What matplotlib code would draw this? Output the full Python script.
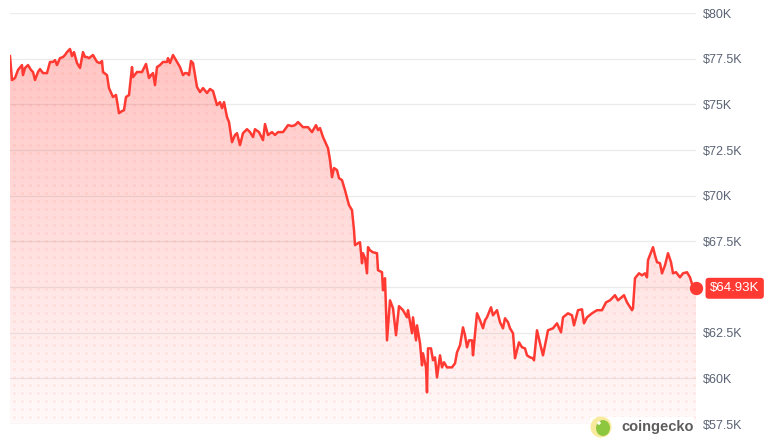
import numpy as np
import matplotlib
matplotlib.use("Agg")
import matplotlib.pyplot as plt
from matplotlib.patches import Rectangle, Ellipse
from matplotlib.colors import to_rgb

plt.rcParams['font.family'] = ['Liberation Sans', 'DejaVu Sans']

# ---- data (time step index, price in $K) ----
t = [0, 2, 5, 8, 12, 13, 15, 18, 21, 23,
     25, 28, 30, 33, 37, 40, 43, 45, 47, 50,
     53, 55, 57, 60, 62, 64, 67, 70, 73, 75,
     77, 79, 83, 87, 90, 92, 93, 97, 99, 103,
     106, 109, 112, 114, 116, 119, 122, 123, 127, 132,
     136, 139, 141, 143, 145, 147, 150, 153, 157, 158,
     160, 163, 167, 170, 173, 175, 177, 179, 181, 183,
     187, 190, 193, 197, 200, 203, 207, 210, 212, 214,
     217, 219, 222, 225, 227, 230, 233, 237, 240, 243,
     245, 249, 253, 255, 258, 262, 265, 268, 273, 278,
     282, 285, 288, 293, 298, 302, 306, 308, 310, 313,
     318, 320, 322, 324, 327, 329, 332, 335, 339, 342,
     344, 345, 348, 350, 352, 353, 355, 357, 358, 360,
     363, 367, 368, 372, 373, 375, 377, 380, 383, 386,
     389, 393, 397, 398, 402, 403, 406, 407, 410, 412,
     413, 416, 417, 418, 421, 423, 425, 427, 430, 432,
     434, 437, 442, 445, 447, 450, 453, 455, 457, 459,
     462, 463, 467, 470, 473, 475, 477, 481, 483, 487,
     490, 493, 495, 498, 500, 503, 505, 509, 512, 515,
     517, 520, 523, 524, 527, 530, 533, 538, 543, 547,
     551, 553, 558, 562, 564, 568, 572, 574, 577, 582,
     587, 592, 596, 600, 605, 608, 614, 617, 622, 623,
     625, 629, 632, 635, 637, 638, 643, 645, 647, 650,
     652, 655, 658, 661, 663, 666, 670, 673, 677, 680,
     683, 686]
price = [77.64, 76.33, 76.44, 76.88, 77.15, 76.60, 76.99, 77.15, 76.88, 76.77,
         76.33, 76.77, 76.93, 76.71, 76.71, 77.32, 77.32, 77.42, 77.15, 77.53,
         77.59, 77.70, 77.86, 78.03, 77.64, 77.86, 77.26, 76.99, 77.86, 77.59,
         77.59, 77.53, 77.70, 77.32, 77.26, 77.37, 76.77, 76.60, 75.89, 75.40,
         75.51, 74.52, 74.63, 74.68, 75.40, 75.51, 77.04, 76.49, 76.77, 76.77,
         77.21, 76.44, 76.60, 76.71, 76.05, 77.04, 77.15, 77.32, 77.32, 77.53,
         77.26, 77.70, 77.32, 77.04, 76.60, 76.71, 76.71, 76.60, 77.37, 77.26,
         75.95, 75.67, 75.89, 75.62, 75.84, 75.73, 74.96, 75.12, 74.79, 75.12,
         74.30, 74.03, 72.93, 73.32, 73.42, 72.77, 73.42, 73.64, 73.48, 73.21,
         73.64, 73.48, 73.04, 73.92, 73.32, 73.48, 73.32, 73.48, 73.48, 73.86,
         73.81, 73.86, 74.03, 73.75, 73.75, 73.48, 73.86, 73.59, 73.70, 73.21,
         72.60, 71.95, 71.01, 71.51, 71.40, 70.96, 70.85, 70.30, 69.48, 69.21,
         68.11, 67.29, 67.40, 67.45, 66.30, 66.85, 66.58, 65.75, 67.18, 67.01,
         66.90, 66.85, 65.92, 65.81, 64.82, 65.48, 62.08, 64.27, 63.84, 62.36,
         63.95, 63.73, 63.34, 63.73, 62.47, 63.34, 62.08, 62.90, 61.92, 60.71,
         61.37, 60.60, 59.23, 61.64, 61.64, 60.99, 61.15, 60.05, 61.26, 60.60,
         60.88, 60.60, 60.60, 60.82, 61.42, 61.81, 62.79, 62.36, 61.70, 62.08,
         62.08, 61.26, 63.56, 63.18, 62.74, 63.18, 63.34, 63.89, 63.45, 63.73,
         63.07, 62.74, 63.29, 63.07, 62.74, 62.47, 61.10, 61.97, 61.70, 61.64,
         61.26, 61.15, 61.10, 60.99, 62.63, 61.92, 61.26, 62.63, 62.74, 63.01,
         62.52, 63.34, 63.56, 63.45, 62.90, 63.73, 63.78, 63.01, 63.34, 63.56,
         63.73, 63.73, 64.16, 64.27, 64.55, 64.27, 64.55, 64.16, 63.73, 63.84,
         65.48, 65.75, 65.64, 65.75, 65.53, 66.47, 67.18, 66.74, 66.36, 66.30,
         65.75, 66.19, 66.85, 66.36, 65.75, 65.81, 65.53, 65.75, 65.81, 65.53,
         64.99, 64.93]
y_ticks = [57.5, 60, 62.5, 65, 67.5, 70, 72.5, 75, 77.5, 80]
# the $65K label is hidden behind the last-price badge in the reference
y_tick_labels = ['$57.5K', '$60K', '$62.5K', '', '$67.5K', '$70K',
                 '$72.5K', '$75K', '$77.5K', '$80K']
last_label = '$64.93K'

RED = '#ff3a33'
W, H = 766, 441

fig = plt.figure(figsize=(W / 100, H / 100), dpi=100)
ax = fig.add_axes([10 / W, 17 / H, 686 / W, 411 / H])
for s in ax.spines.values():
    s.set_visible(False)

xmin, xmax = t[0], t[-1]
ymin, ymax = y_ticks[0], y_ticks[-1]

# grid lines
for v in y_ticks:
    ax.axhline(v, color='#ebebeb', lw=0.9, zorder=0)

# gradient fill under line
poly = ax.fill_between(t, price, ymin, color='none', lw=0, zorder=1)
rgb = np.array(to_rgb(RED))
ny = 256
yy = np.linspace(ymin, ymax, ny)
alpha = np.clip(0.03 + (yy - ymin) / (78 - ymin) * 0.27, 0, 0.32)
img = np.zeros((ny, 2, 4))
img[..., :3] = rgb
img[..., 3] = alpha[:, None]
im = ax.imshow(img, extent=[xmin, xmax, ymin, ymax], origin='lower',
               aspect='auto', zorder=1, interpolation='bilinear')
im.set_clip_path(poly.get_paths()[0], transform=ax.transData)

# dot pattern inside the fill
px_x = (xmax - xmin) / 686.0
px_y = (ymax - ymin) / 411.0
dx = np.arange(xmin + 4 * px_x, xmax, 8 * px_x)
dy = np.arange(ymin + 7 * px_y, ymax, 8 * px_y)
DX, DY = np.meshgrid(dx, dy)
sc = ax.scatter(DX.ravel(), DY.ravel(), s=5, color=RED, alpha=0.07,
                lw=0, zorder=2)
sc.set_clip_path(poly.get_paths()[0], transform=ax.transData)

# price line
ax.plot(t, price, color=RED, lw=1.8, zorder=3, solid_joinstyle='round')
ax.plot(t[-1], price[-1], 'o', ms=8.6, color=RED, clip_on=False, zorder=6)

ax.set_xlim(xmin, xmax)
ax.set_ylim(ymin, ymax)
ax.set_xticks([])
ax.yaxis.tick_right()
ax.set_yticks(y_ticks)
ax.set_yticklabels(y_tick_labels)
ax.tick_params(axis='y', length=0, pad=5, labelsize=9, labelcolor='#5a6374')

# last price badge
ax.text(1 + 14 / 686, price[-1], last_label, transform=ax.get_yaxis_transform(),
        ha='left', va='center', color='white', fontsize=9.5, zorder=10,
        clip_on=False,
        bbox=dict(boxstyle='round,pad=0.34,rounding_size=0.25', fc=RED, ec='none'))

# coingecko watermark
fig.patches.append(Rectangle((590 / W, 2 / H), 104 / W, 22 / H,
                             transform=fig.transFigure, fc='white', ec='none', zorder=5))
fig.patches.append(Ellipse((601 / W, 14 / H), 21 / W, 21 / H,
                           transform=fig.transFigure, fc='#f8ea9c', ec='none', zorder=6))
fig.patches.append(Ellipse((603 / W, 13 / H), 14 / W, 16 / H,
                           transform=fig.transFigure, fc='#8dc63f', ec='none', zorder=7))
fig.patches.append(Ellipse((599 / W, 18 / H), 3.5 / W, 3.5 / H,
                           transform=fig.transFigure, fc='white', ec='none', zorder=8))
fig.text(621 / W, 14 / H, 'coingecko', fontsize=10.5, fontweight='bold',
         color='#5d5d5d', ha='left', va='center', zorder=9)

fig.savefig('out.png', dpi=100, facecolor='white')
